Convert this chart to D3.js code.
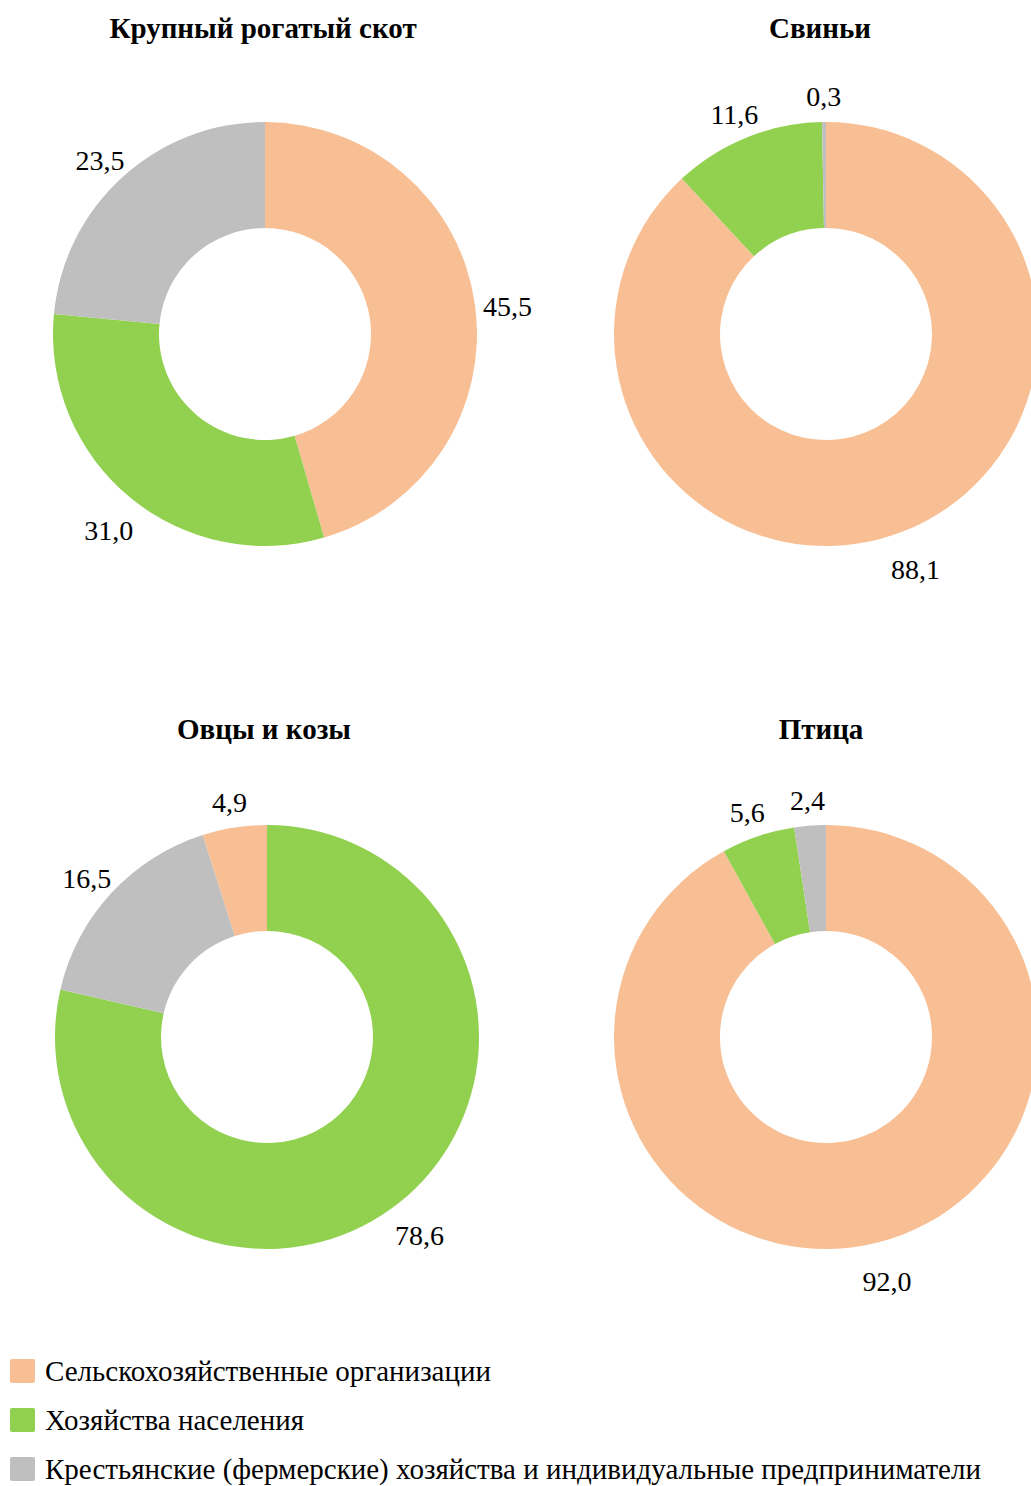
<!DOCTYPE html>
<html><head><meta charset="utf-8">
<script src="https://cdn.jsdelivr.net/npm/d3@7"></script>
<style>body{margin:0;background:#fff}svg{display:block}</style>
</head><body>
<script>
const categories = ["Сельскохозяйственные организации","Хозяйства населения","Крестьянские (фермерские) хозяйства и индивидуальные предприниматели"];
const colors = ["#F8BF94","#92D050","#BFBFBF"];
const titles = ["Крупный рогатый скот","Свиньи","Овцы и козы","Птица"];
// values in drawing order (clockwise from 12 o'clock): [category index, value]
const cattle = [[0,45.5],[1,31.0],[2,23.5]];
const pigs = [[0,88.1],[1,11.6],[2,0.3]];
const sheep = [[1,78.6],[2,16.5],[0,4.9]];
const poultry = [[0,92.0],[1,5.6],[2,2.4]];
const series = [cattle, pigs, sheep, poultry];

const FONT = '"Liberation Serif", "Times New Roman", Tinos, serif';
const W = 1031, H = 1486;
const svg = d3.select("body").append("svg").attr("width", W).attr("height", H);
const centers = [[265,334],[826,334],[267,1037],[826,1037]];
const titleY = [38,38,739,739];
const titleX = [263,820,264,821];
const outerR = 212, innerR = 106, labelR = 245;
const fmt = v => d3.format(".1f")(v).replace(".", ",");

const pie = d3.pie().value(d => d[1]).sort(null);
const arc = d3.arc().innerRadius(innerR).outerRadius(outerR);
const labelArc = d3.arc().innerRadius(labelR).outerRadius(labelR);

series.forEach((data, i) => {
  const g = svg.append("g").attr("transform", `translate(${centers[i][0]},${centers[i][1]})`);
  const arcs = pie(data);
  g.selectAll("path").data(arcs).join("path")
    .attr("d", arc).attr("fill", d => colors[d.data[0]]);
  g.selectAll("text").data(arcs).join("text")
    .attr("transform", d => `translate(${labelArc.centroid(d)})`)
    .attr("text-anchor", "middle").attr("dy", "0.6em")
    .style("font-family", FONT).attr("font-size", 28)
    .attr("fill", "#000")
    .text(d => fmt(d.data[1]));
  svg.append("text").attr("x", titleX[i]).attr("y", titleY[i])
    .attr("text-anchor", "middle")
    .style("font-family", FONT).attr("font-weight", "bold").attr("font-size", 29)
    .text(titles[i]);
});

const leg = svg.append("g").attr("transform", "translate(10,1359)");
const rows = leg.selectAll("g").data(categories).join("g")
  .attr("transform", (d, i) => `translate(0,${i*49})`);
rows.append("rect").attr("width", 25).attr("height", 24).attr("rx", 2).attr("fill", (d, i) => colors[i]);
rows.append("text").attr("x", 35).attr("y", 22)
  .style("font-family", FONT).attr("font-size", 29).text(d => d);
</script>
</body></html>
